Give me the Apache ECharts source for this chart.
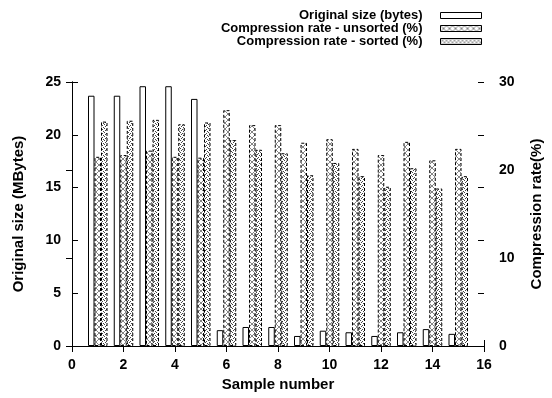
<!DOCTYPE html>
<html>
<head>
<meta charset="utf-8">
<script src="https://cdn.jsdelivr.net/npm/echarts@6/dist/echarts.min.js"></script>
<style>
  html, body { margin: 0; padding: 0; background: #fff; }
  #chart { width: 552px; height: 398px; }
</style>
</head>
<body>
<div id="chart"></div>
<script>
// sample numbers on the x axis
const samples = [1, 2, 3, 4, 5, 6, 7, 8, 9, 10, 11, 12, 13, 14, 15];
// original size, MBytes (left axis)
const originalSize = [23.7, 23.7, 24.6, 24.6, 23.4, 1.5, 1.8, 1.8, 0.95, 1.45, 1.3, 0.95, 1.3, 1.6, 1.15];
// compression rate, % (right axis)
const rateUnsorted = [21.5, 21.7, 22.2, 21.5, 21.4, 26.8, 25.1, 25.1, 23.1, 23.5, 22.4, 21.7, 23.2, 21.1, 22.4];
const rateSorted = [25.5, 25.6, 25.7, 25.2, 25.4, 23.4, 22.3, 21.9, 19.4, 20.8, 19.3, 18.1, 20.2, 17.9, 19.3];
const seriesNames = ['Original size (bytes)', 'Compression rate - unsorted (%)', 'Compression rate - sorted (%)'];

const FONT = '"Liberation Sans", Arial, sans-serif';

// fill patterns like the gnuplot ones
function hatchPattern() {
    const c = document.createElement('canvas');
    c.width = 6; c.height = 6;
    const ctx = c.getContext('2d');
    ctx.fillStyle = '#fff';
    ctx.fillRect(0, 0, 6, 6);
    ctx.strokeStyle = '#666';
    ctx.lineWidth = 0.8;
    ctx.beginPath();
    ctx.moveTo(0, 0); ctx.lineTo(6, 6);
    ctx.moveTo(6, 0); ctx.lineTo(0, 6);
    ctx.stroke();
    return c;
}
function dotPattern() {
    const c = document.createElement('canvas');
    c.width = 4; c.height = 4;
    const ctx = c.getContext('2d');
    ctx.fillStyle = '#fff';
    ctx.fillRect(0, 0, 4, 4);
    ctx.fillStyle = '#444';
    [[0, 0], [2, 1], [1, 2], [3, 3]].forEach(p => ctx.fillRect(p[0], p[1], 1, 1));
    return c;
}

const chart = echarts.init(document.getElementById('chart'));

const tickLabel = { color: '#000', fontFamily: FONT, fontWeight: 'bold', fontSize: 14 };
const nameStyle = { color: '#000', fontFamily: FONT, fontWeight: 'bold', fontSize: 15 };
const line = { show: true, lineStyle: { color: '#000', width: 1 } };
const tick = { show: true, inside: true, length: 6, lineStyle: { color: '#000' } };

const option = {
    animation: false,
    grid: { left: 72, right: 62, top: 82, bottom: 52 },
    legend: {
        orient: 'vertical',
        align: 'right',
        right: 65,
        top: 4,
        icon: 'rect',
        itemWidth: 41,
        itemHeight: 6,
        itemGap: 0,
        itemStyle: { borderWidth: 1, borderColor: '#000' },
        textStyle: {
            color: '#000', fontFamily: FONT, fontWeight: 'bold', fontSize: 13, lineHeight: 13,
            padding: [0, 13, 0, 0]
        },
        data: seriesNames
    },
    xAxis: [{
        type: 'value',
        min: 0, max: 16, interval: 2,
        name: 'Sample number',
        nameLocation: 'middle',
        nameGap: 30,
        nameTextStyle: nameStyle,
        axisLine: line,
        axisTick: tick,
        axisLabel: Object.assign({ margin: 12 }, tickLabel),
        splitLine: { show: false }
    }, {
        type: 'value',
        position: 'top',
        min: 0, max: 16, interval: 2,
        axisLine: line,
        axisTick: tick,
        axisLabel: { show: false },
        splitLine: { show: false }
    }],
    yAxis: [{
        type: 'value',
        position: 'left',
        min: 0, max: 25, interval: 5,
        name: 'Original size (MBytes)',
        nameLocation: 'middle',
        nameGap: 46,
        nameRotate: 90,
        nameTextStyle: nameStyle,
        axisLine: line,
        axisTick: tick,
        axisLabel: Object.assign({ margin: 11 }, tickLabel),
        splitLine: { show: false }
    }, {
        type: 'value',
        position: 'right',
        min: 0, max: 30, interval: 10,
        name: 'Compression rate(%)',
        nameLocation: 'middle',
        nameGap: 45,
        nameRotate: 90,
        nameTextStyle: nameStyle,
        axisLine: line,
        axisTick: tick,
        axisLabel: Object.assign({ margin: 15 }, tickLabel),
        splitLine: { show: false }
    }, {
        // mirrored ticks of the left axis
        type: 'value',
        position: 'right',
        min: 0, max: 25, interval: 5,
        axisLine: { show: false },
        axisTick: tick,
        axisLabel: { show: false },
        splitLine: { show: false }
    }],
    series: [{
        name: seriesNames[0],
        type: 'bar',
        yAxisIndex: 0,
        barWidth: 6.5,
        barGap: '0%',
        itemStyle: { color: '#fff', borderColor: '#000', borderWidth: 1 },
        data: samples.map((s, i) => [s, originalSize[i]])
    }, {
        name: seriesNames[1],
        type: 'bar',
        yAxisIndex: 1,
        barWidth: 6.5,
        barGap: '0%',
        itemStyle: { color: { image: hatchPattern(), repeat: 'repeat' }, borderColor: '#000', borderWidth: 1, borderType: [3, 2] },
        data: samples.map((s, i) => [s, rateUnsorted[i]])
    }, {
        name: seriesNames[2],
        type: 'bar',
        yAxisIndex: 1,
        barWidth: 6.5,
        barGap: '0%',
        itemStyle: { color: { image: dotPattern(), repeat: 'repeat' }, borderColor: '#000', borderWidth: 1, borderType: [3, 2] },
        data: samples.map((s, i) => [s, rateSorted[i]])
    }]
};

chart.setOption(option);
</script>
</body>
</html>
